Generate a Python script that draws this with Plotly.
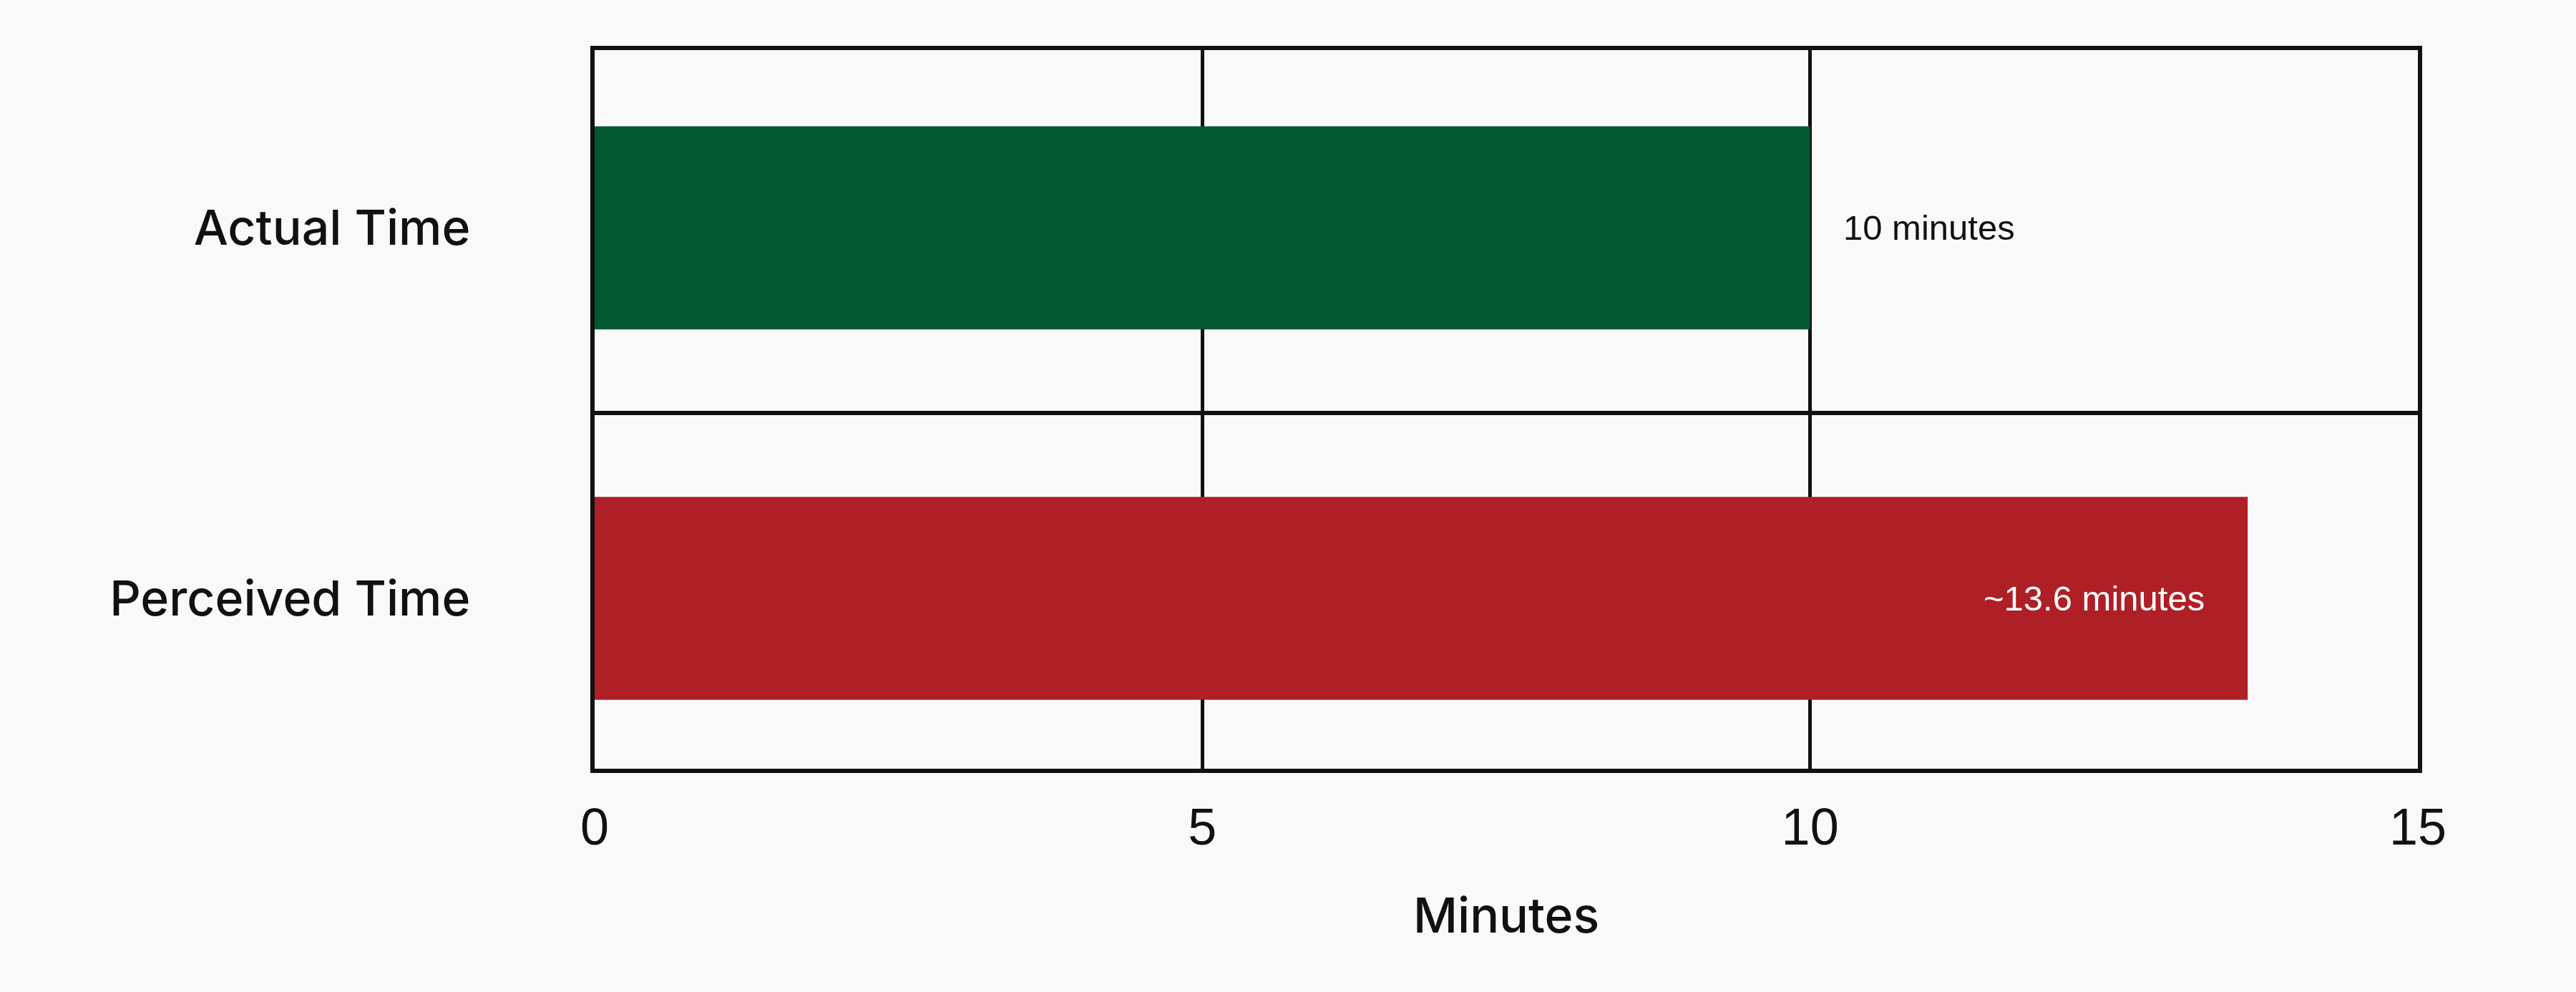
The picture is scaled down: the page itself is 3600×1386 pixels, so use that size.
import plotly.graph_objects as go

categories=["Actual Time","Perceived Time"]
minutes=[10,13.6]
bar_labels=["10 minutes","~13.6 minutes"]
bar_colors=["#02592F","#AE1F26"]
label_colors=["#111111","#FFFFFF"]
x_ticks=[0,5,10,15]

bg="#F9F9F9"
ink="#111111"
font_family="Liberation Sans, Arial, Helvetica, sans-serif"
label_family="Inter, Liberation Sans, sans-serif"

fig=go.Figure(go.Bar(
  x=minutes,y=categories,orientation="h",
  marker=dict(color=bar_colors,line=dict(width=0)),
  width=0.548,hoverinfo="skip"))

# value labels: first one sits outside the bar, the other inside at its end
for i in range(len(categories)):
  inside=minutes[i]>=max(minutes)
  fig.add_annotation(x=minutes[i],y=categories[i],text=bar_labels[i],showarrow=False,
    xanchor="right" if inside else "left",xshift=-58 if inside else 44,
    font=dict(family=font_family,size=49,color=label_colors[i]))

fig.update_layout(
  width=3600,height=1386,
  paper_bgcolor=bg,plot_bgcolor=bg,
  margin=dict(l=831,r=221,t=70,b=312),
  showlegend=False,
  font=dict(family=font_family,color=ink),
)
fig.update_xaxes(
  range=[0,15],tickvals=x_ticks,ticks="",ticklabelstandoff=14,
  tickfont=dict(size=72,color=ink),
  showgrid=True,gridcolor=ink,gridwidth=4.5,zeroline=False,
  showline=True,linecolor=ink,linewidth=6,mirror=True,
  title=dict(text="Minutes",standoff=63,font=dict(family=label_family,size=68,color=ink,weight=500)),
)
fig.update_yaxes(
  type="category",range=[1.46,-0.48],tickson="boundaries",ticks="",
  ticklabelstandoff=154,
  tickfont=dict(family=label_family,size=68,color=ink,weight=500),
  showgrid=True,gridcolor=ink,gridwidth=6,zeroline=False,
  showline=True,linecolor=ink,linewidth=6,mirror=True,
)
fig.write_html("out.html",config={"displayModeBar":False},
  post_script="document.body.style.margin='0';document.body.style.background='#F9F9F9';")
